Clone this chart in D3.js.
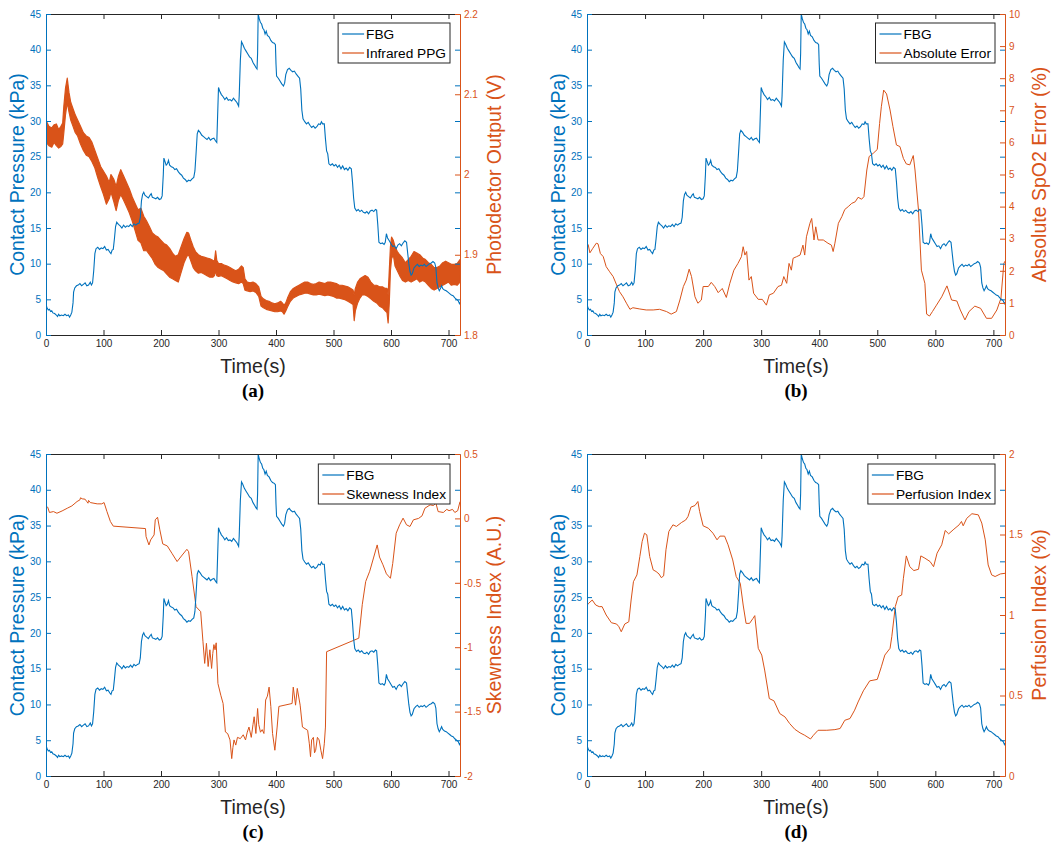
<!DOCTYPE html>
<html>
<head>
<meta charset="utf-8">
<script src="https://cdn.jsdelivr.net/npm/d3@7"></script>
<style>
  body { margin: 0; background: #fff; }
  svg text { font-family: "Liberation Sans", Arial, sans-serif; }
</style>
</head>
<body>
<div id="chart"></div>
<script>
// == data ==
var xTicks = [0, 100, 200, 300, 400, 500, 600, 700];
var kpaTicks = [0, 5, 10, 15, 20, 25, 30, 35, 40, 45];
var ppgTicks = [1.8, 1.9, 2, 2.1, 2.2];
var errTicks = [0, 1, 2, 3, 4, 5, 6, 7, 8, 9, 10];
var skewTicks = [-2, -1.5, -1, -0.5, 0, 0.5];
var perfTicks = [0, 0.5, 1, 1.5, 2];

// FBG contact pressure [time s, kPa]
var fbg = [
  [0,4.2],[2,3.8],[4,3.5],[6,3.6],[8,3.3],[10,3.4],[12,3.1],[15,3.0],[18,2.8],[20,2.6],
  [22,2.9],[24,2.7],[27,2.8],[30,2.7],[33,2.9],[36,2.7],[39,2.8],[41,2.5],[43,2.8],[45,3.2],
  [47,4.5],[48,6.0],[50,6.6],[53,6.9],[56,7.0],[59,7.2],[62,6.9],[65,7.1],[68,7.3],[71,6.9],
  [74,7.0],[77,7.4],[79,7.0],[81,7.3],[83,9.0],[85,11.4],[87,12.1],[90,12.3],[93,12.0],[96,12.2],
  [99,12.1],[102,12.4],[105,11.9],[108,12.0],[111,11.6],[113,11.4],[115,11.9],[117,12.0],[119,13.5],[121,15.2],
  [123,15.8],[126,15.5],[129,15.3],[132,15.0],[135,15.4],[138,15.1],[141,15.3],[144,15.2],[147,15.5],[150,15.2],
  [153,15.6],[156,15.4],[159,15.6],[162,15.7],[164,16.5],[166,18.8],[168,19.7],[170,20.0],[172,19.6],[175,19.4],
  [178,19.2],[181,19.6],[183,19.8],[185,19.3],[188,19.2],[191,19.1],[194,19.3],[197,19.0],[200,19.1],[202,19.5],
  [204,22.5],[205,24.8],[207,24.3],[209,23.8],[211,24.0],[213,24.5],[215,23.8],[218,23.6],[221,23.5],[224,23.2],
  [227,23.3],[230,22.9],[233,22.6],[236,22.4],[239,22.0],[242,21.8],[245,21.5],[248,21.7],[251,21.6],[254,21.9],
  [257,22.1],[259,23.0],[261,25.5],[263,28.2],[265,28.7],[268,28.4],[271,28.0],[274,27.8],[277,27.6],[280,27.4],
  [283,27.7],[286,27.3],[289,27.5],[292,27.6],[295,27.2],[297,27.0],[298,29.5],[300,34.7],[302,34.2],[305,33.7],
  [308,33.4],[311,33.0],[314,33.3],[317,32.9],[320,33.0],[323,32.8],[326,33.2],[329,32.9],[332,32.6],[335,32.1],
  [336,33.5],[338,38.5],[340,41.1],[342,40.8],[345,40.2],[348,39.8],[351,39.4],[354,39.0],[357,38.8],[360,38.2],
  [363,37.8],[365,37.5],[367,37.3],[368,39.5],[369,45.0],[371,44.3],[373,43.8],[375,43.6],[377,43.0],[379,42.8],
  [381,42.2],[383,42.6],[385,42.0],[388,41.8],[391,41.3],[394,41.0],[397,40.9],[399,40.7],[400,38.0],[401,36.3],
  [404,36.0],[407,35.6],[410,35.2],[413,34.9],[415,35.3],[417,36.5],[420,37.2],[423,37.4],[426,37.1],[429,36.9],
  [432,37.0],[435,36.6],[438,36.3],[441,36.0],[443,34.5],[445,31.5],[447,30.3],[450,29.9],[453,29.6],[456,29.8],
  [459,29.4],[462,29.1],[465,29.3],[468,29.0],[471,29.2],[474,29.6],[477,29.5],[479,29.9],[481,29.6],[484,29.6],
  [486,27.5],[488,25.8],[490,25.4],[492,24.0],[495,23.8],[498,24.0],[501,23.7],[504,23.9],[507,23.5],[510,23.8],
  [513,23.3],[516,23.7],[519,23.2],[522,23.4],[525,23.1],[528,23.5],[531,23.3],[533,21.5],[535,19.2],[537,17.8],
  [540,17.4],[543,17.6],[546,17.3],[549,17.5],[552,17.2],[555,17.1],[558,17.3],[561,17.0],[564,17.4],[567,17.5],
  [570,17.3],[573,17.6],[575,17.5],[577,15.5],[579,13.0],[582,12.8],[585,12.9],[588,12.7],[590,13.0],[592,14.2],
  [594,13.6],[597,13.2],[600,12.8],[603,12.4],[606,12.5],[609,12.1],[612,12.6],[615,12.8],[618,12.5],[621,12.9],
  [624,13.2],[627,13.0],[629,11.5],[631,10.0],[633,8.9],[635,8.4],[637,8.6],[640,9.4],[643,9.7],[646,9.9],
  [649,9.6],[652,9.8],[655,9.7],[658,9.9],[661,9.6],[664,9.8],[667,10.0],[670,10.1],[673,10.3],[676,10.1],
  [678,9.5],[680,7.3],[682,6.6],[684,6.2],[686,6.5],[688,6.9],[690,6.5],[693,6.3],[696,6.2],[699,6.0],
  [702,5.8],[705,5.6],[708,5.5],[711,5.2],[714,5.0],[717,4.8],[719,4.4],[720,4.6]
];

// infrared PPG band [time s, lower V, upper V]
var ppg = [
  [0,1.79,2.065],[1,2.040,2.066],[5,2.036,2.060],[10,2.034,2.058],[14,2.040,2.062],[18,2.036,2.063],
  [22,2.033,2.056],[26,2.035,2.060],[29,2.038,2.064],[31,2.052,2.085],[34,2.075,2.108],[37,2.090,2.120],
  [40,2.078,2.102],[43,2.068,2.090],[47,2.060,2.082],[51,2.052,2.074],[55,2.048,2.068],[60,2.038,2.060],
  [65,2.030,2.052],[70,2.024,2.048],[75,2.022,2.046],[80,2.016,2.040],[85,2.008,2.030],[90,1.996,2.020],
  [95,1.985,2.010],[100,1.975,2.004],[105,1.963,1.998],[110,1.970,1.990],[113,1.978,2.000],[118,1.966,1.994],
  [122,1.955,1.985],[126,1.968,1.998],[130,1.975,2.006],[135,1.968,1.998],[140,1.960,1.990],[145,1.952,1.982],
  [150,1.942,1.972],[155,1.930,1.964],[160,1.918,1.956],[165,1.915,1.958],[170,1.905,1.948],[175,1.905,1.942],
  [180,1.900,1.935],[185,1.895,1.927],[190,1.888,1.924],[195,1.884,1.922],[200,1.882,1.918],[205,1.880,1.914],
  [210,1.876,1.912],[215,1.872,1.908],[220,1.870,1.902],[225,1.868,1.898],[230,1.866,1.900],[235,1.878,1.910],
  [240,1.890,1.920],[245,1.898,1.928],[248,1.900,1.927],[252,1.892,1.918],[256,1.884,1.910],[260,1.880,1.904],
  [265,1.877,1.900],[270,1.878,1.898],[275,1.876,1.897],[280,1.874,1.896],[285,1.872,1.895],[290,1.872,1.893],
  [293,1.874,1.892],[295,1.880,1.905],[297,1.874,1.893],[300,1.873,1.889],[305,1.874,1.889],[310,1.872,1.887],
  [315,1.870,1.886],[320,1.868,1.884],[325,1.866,1.882],[330,1.865,1.880],[335,1.864,1.882],[340,1.866,1.886],
  [343,1.864,1.884],[346,1.856,1.870],[350,1.855,1.866],[355,1.854,1.865],[360,1.855,1.866],[365,1.853,1.864],
  [370,1.848,1.860],[374,1.836,1.848],[378,1.834,1.845],[383,1.832,1.843],[388,1.831,1.842],[393,1.830,1.840],
  [398,1.829,1.839],[403,1.829,1.840],[408,1.830,1.842],[411,1.829,1.840],[414,1.826,1.837],[417,1.830,1.840],
  [420,1.835,1.846],[425,1.842,1.854],[430,1.846,1.858],[435,1.848,1.860],[440,1.850,1.862],[445,1.851,1.864],
  [450,1.852,1.866],[455,1.852,1.866],[460,1.851,1.864],[465,1.850,1.863],[470,1.850,1.864],[475,1.851,1.866],
  [480,1.850,1.865],[485,1.849,1.864],[490,1.850,1.866],[495,1.849,1.866],[500,1.848,1.865],[505,1.846,1.864],
  [510,1.846,1.862],[515,1.845,1.862],[520,1.844,1.861],[525,1.842,1.860],[530,1.840,1.858],[534,1.838,1.856],
  [536,1.818,1.850],[538,1.830,1.858],[542,1.840,1.866],[546,1.846,1.870],[550,1.850,1.872],[555,1.850,1.874],
  [560,1.848,1.872],[565,1.845,1.866],[570,1.842,1.862],[575,1.840,1.862],[580,1.836,1.860],[585,1.834,1.860],
  [590,1.830,1.858],[593,1.828,1.858],[595,1.815,1.850],[597,1.840,1.880],[599,1.880,1.910],[601,1.895,1.922],
  [604,1.900,1.918],[607,1.886,1.910],[611,1.880,1.904],[615,1.874,1.900],[620,1.868,1.896],[625,1.866,1.890],
  [630,1.868,1.894],[635,1.866,1.898],[640,1.868,1.904],[645,1.870,1.902],[650,1.866,1.900],[655,1.868,1.896],
  [660,1.866,1.894],[665,1.862,1.890],[670,1.858,1.888],[675,1.856,1.884],[680,1.858,1.884],[685,1.860,1.886],
  [690,1.862,1.890],[695,1.864,1.892],[700,1.866,1.890],[705,1.862,1.888],[710,1.863,1.888],[715,1.862,1.889],
  [720,1.866,1.894]
];

// absolute SpO2 error [time s, %]
var spo2Error = [
  [0,2.85],[2,2.82],[5,2.56],[10,2.70],[16,2.86],[19,2.84],[23,2.54],[28,2.44],[33,2.13],[39,1.97],
  [45,1.82],[51,1.56],[56,1.35],[62,1.19],[68,0.99],[74,0.80],[79,0.85],[91,0.81],[102,0.78],[114,0.78],
  [125,0.80],[137,0.73],[145,0.65],[154,0.73],[160,1.09],[166,1.51],[171,1.71],[176,2.05],[180,1.82],[186,1.19],
  [191,0.99],[197,1.09],[200,1.51],[209,1.51],[214,1.64],[220,1.51],[226,1.32],[233,1.45],[240,1.17],[246,1.61],
  [253,2.02],[260,2.23],[266,2.44],[269,2.75],[272,2.49],[275,2.60],[279,1.71],[283,1.82],[287,1.30],[295,1.11],
  [302,1.11],[309,0.93],[314,1.25],[321,1.30],[329,1.51],[335,1.55],[339,1.82],[344,1.61],[348,2.23],[352,2.02],
  [355,2.39],[361,2.44],[367,2.49],[372,2.80],[375,2.49],[378,3.06],[384,3.48],[387,3.63],[391,2.96],[394,3.37],
  [398,2.96],[407,2.96],[415,2.86],[421,2.80],[424,2.60],[427,2.86],[433,3.48],[439,3.69],[444,3.91],[450,4.00],
  [456,4.10],[462,4.15],[467,4.29],[473,4.23],[477,4.31],[482,5.14],[486,5.56],[493,5.66],[500,5.78],[504,6.59],
  [507,7.11],[511,7.63],[516,7.51],[522,7.01],[527,6.49],[533,5.92],[539,5.87],[545,5.50],[550,5.33],[556,5.30],
  [562,5.59],[565,5.14],[571,3.89],[576,2.02],[582,1.61],[585,0.65],[590,0.59],[595,0.73],[602,0.93],[611,1.19],
  [620,1.53],[628,1.09],[637,1.06],[643,0.78],[651,0.47],[658,0.73],[668,0.90],[678,0.83],[688,0.52],[697,0.52],
  [706,0.78],[713,1.14],[718,2.23],[720,2.30]
];

// skewness index [time s, A.U.]
var skewness = [
  [0,0.09],[3,0.087],[6,0.046],[13,0.053],[19,0.040],[28,0.058],[37,0.079],[45,0.097],[54,0.131],[59,0.144],
  [60,0.16],[63,0.152],[68,0.149],[71,0.13],[73,0.118],[74,0.14],[77,0.123],[89,0.113],[97,0.113],[101,0.123],
  [106,0.053],[112,-0.024],[117,-0.06],[173,-0.079],[174,-0.141],[179,-0.206],[182,-0.167],[188,-0.128],[190,-0.011],[194,0.009],
  [198,-0.089],[203,-0.198],[211,-0.214],[219,-0.271],[228,-0.335],[237,-0.284],[245,-0.240],[248,-0.258],[254,-0.452],[261,-0.686],
  [269,-0.724],[273,-0.958],[276,-1.126],[279,-0.97],[282,-1.15],[285,-1.02],[288,-1.165],[290,-1.05],[292,-0.98],[294,-1.02],
  [296,-0.966],[299,-1.282],[304,-1.373],[308,-1.437],[312,-1.658],[316,-1.671],[320,-1.72],[323,-1.865],[325,-1.78],[327,-1.72],
  [330,-1.76],[333,-1.70],[338,-1.71],[343,-1.68],[347,-1.72],[350,-1.66],[353,-1.62],[357,-1.70],[360,-1.60],[362,-1.54],
  [365,-1.67],[368,-1.476],[370,-1.6],[373,-1.66],[376,-1.64],[379,-1.67],[382,-1.41],[385,-1.38],[388,-1.31],[391,-1.46],
  [394,-1.67],[398,-1.80],[402,-1.62],[405,-1.46],[428,-1.437],[430,-1.31],[434,-1.45],[437,-1.32],[442,-1.45],[446,-1.62],
  [455,-1.645],[458,-1.75],[460,-1.85],[462,-1.72],[465,-1.70],[467,-1.82],[469,-1.80],[472,-1.7],[475,-1.72],[478,-1.8],
  [481,-1.865],[484,-1.75],[486,-1.62],[488,-1.035],[544,-0.93],[550,-0.67],[556,-0.49],[563,-0.41],[570,-0.30],[576,-0.206],
  [580,-0.30],[586,-0.36],[592,-0.43],[599,-0.465],[603,-0.35],[609,-0.115],[615,-0.05],[621,0.002],[627,-0.05],[633,-0.063],
  [639,-0.011],[648,0.0],[654,0.02],[659,0.079],[668,0.105],[674,0.10],[678,0.12],[682,0.053],[691,0.046],[697,0.07],
  [701,0.06],[707,0.07],[711,0.046],[716,0.06],[720,0.13]
];

// perfusion index [time s, %]
var perfusion = [
  [0,1.06],[3,1.073],[9,1.093],[15,1.062],[21,1.052],[26,1.052],[33,1.0],[42,0.952],[51,0.944],[55,0.927],
  [59,0.896],[65,0.944],[72,0.958],[76,1.093],[80,1.207],[86,1.249],[91,1.363],[95,1.456],[99,1.508],[103,1.498],
  [108,1.363],[114,1.28],[119,1.27],[124,1.255],[128,1.232],[132,1.243],[136,1.405],[141,1.519],[148,1.56],[154,1.55],
  [163,1.575],[170,1.59],[174,1.612],[179,1.67],[186,1.68],[191,1.705],[194,1.643],[200,1.554],[209,1.539],[217,1.508],
  [224,1.467],[229,1.49],[237,1.49],[243,1.436],[251,1.342],[257,1.239],[264,1.197],[269,1.062],[274,0.948],[280,0.948],
  [286,0.979],[289,0.996],[295,0.793],[301,0.751],[306,0.658],[314,0.481],[322,0.467],[332,0.388],[341,0.367],[349,0.326],
  [358,0.290],[367,0.268],[375,0.253],[385,0.230],[390,0.253],[398,0.284],[413,0.284],[427,0.288],[436,0.295],[444,0.346],
  [453,0.357],[461,0.409],[467,0.46],[476,0.529],[487,0.591],[500,0.60],[507,0.678],[513,0.751],[522,0.793],[525,0.865],
  [531,1.052],[536,1.114],[542,1.124],[545,1.228],[550,1.367],[556,1.30],[563,1.276],[571,1.284],[575,1.367],[582,1.353],
  [591,1.332],[597,1.30],[603,1.384],[611,1.436],[617,1.525],[623,1.504],[632,1.533],[641,1.56],[645,1.581],[648,1.554],
  [654,1.60],[663,1.629],[674,1.622],[680,1.571],[686,1.467],[691,1.311],[697,1.249],[703,1.239],[712,1.255],[720,1.259]
];

// == layout ==
var BLUE = "#0072BD", ORANGE = "#D95319", DARK = "#262626";

var panels = [
  { left: 46, top: 14, width: 414, height: 321, caption: "(a)",
    domain: [1.8, 2.2], ticks: ppgTicks, ylabel: "Photodector Output (V)", legend: "Infrared PPG",
    band: ppg },
  { left: 587, top: 14, width: 418, height: 321, caption: "(b)",
    domain: [0, 10], ticks: errTicks, ylabel: "Absolute SpO2 Error (%)", legend: "Absolute Error",
    series: spo2Error },
  { left: 46, top: 454, width: 414, height: 322, caption: "(c)",
    domain: [-2, 0.5], ticks: skewTicks, ylabel: "Skewness Index (A.U.)", legend: "Skewness Index",
    series: skewness },
  { left: 587, top: 454, width: 418, height: 322, caption: "(d)",
    domain: [0, 2], ticks: perfTicks, ylabel: "Perfusion Index (%)", legend: "Perfusion Index",
    series: perfusion }
];

// plain number labels, as MATLAB prints them (2.2, 2, -0.5)
var plain = function (d) { return String(+d.toFixed(4)); };

var svg = d3.select("#chart")
  .append("svg")
  .attr("width", 1054)
  .attr("height", 848);

var drawPanel = function (p, idx) {
  var w = p.width, h = p.height;
  var g = svg.append("g").attr("transform", "translate(" + p.left + "," + p.top + ")");

  var x = d3.scaleLinear().domain([0, 720]).range([0, w]);
  var yL = d3.scaleLinear().domain([0, 45]).range([h, 0]);
  var yR = d3.scaleLinear().domain(p.domain).range([h, 0]);

  var clipId = "clip" + idx;
  g.append("clipPath").attr("id", clipId)
    .append("rect").attr("x", 0).attr("y", -1).attr("width", w).attr("height", h + 2);

  var plot = g.append("g").attr("clip-path", "url(#" + clipId + ")");

  // -- orange series --
  if (p.band) {
    var area = d3.area()
      .x(function (d) { return x(d[0]); })
      .y0(function (d) { return yR(d[1]); })
      .y1(function (d) { return yR(d[2]); });
    plot.append("path").datum(p.band)
      .attr("d", area)
      .attr("fill", ORANGE)
      .attr("stroke", ORANGE)
      .attr("stroke-width", 1.2)
      .attr("stroke-linejoin", "round");
  } else {
    var line = d3.line()
      .x(function (d) { return x(d[0]); })
      .y(function (d) { return yR(d[1]); });
    plot.append("path").datum(p.series)
      .attr("d", line)
      .attr("fill", "none")
      .attr("stroke", ORANGE)
      .attr("stroke-width", 1);
  }

  // -- FBG --
  var fbgLine = d3.line()
    .x(function (d) { return x(d[0]); })
    .y(function (d) { return yL(d[1]); });
  plot.append("path").datum(fbg)
    .attr("d", fbgLine)
    .attr("fill", "none")
    .attr("stroke", BLUE)
    .attr("stroke-width", 1.1);

  // == axes ==
  var xAxis = d3.axisBottom(x).tickValues(xTicks).tickSizeInner(-5).tickSizeOuter(0).tickPadding(5);
  var xTop = d3.axisTop(x).tickValues(xTicks).tickSizeInner(-5).tickSizeOuter(0).tickFormat("");
  var leftAxis = d3.axisLeft(yL).tickValues(kpaTicks).tickSizeInner(-5).tickSizeOuter(0).tickPadding(5);
  var leftMirror = d3.axisRight(yL).tickValues(kpaTicks).tickSizeInner(-5).tickSizeOuter(0).tickFormat("");
  var rightAxis = d3.axisRight(yR).tickValues(p.ticks).tickSizeInner(-5).tickSizeOuter(0)
    .tickPadding(4).tickFormat(plain);

  var gx = g.append("g").attr("transform", "translate(0," + h + ")").call(xAxis);
  var gt = g.append("g").call(xTop);
  var gm = g.append("g").attr("transform", "translate(" + w + ",0)").call(leftMirror);
  var gr = g.append("g").attr("transform", "translate(" + w + ",0)").call(rightAxis);
  var gl = g.append("g").call(leftAxis);

  [gx, gt].forEach(function (a) {
    a.select(".domain").attr("stroke", DARK);
    a.selectAll(".tick line").attr("stroke", DARK);
    a.selectAll("text").attr("fill", DARK).style("font-size", "10px");
  });
  gl.select(".domain").attr("stroke", BLUE);
  gl.selectAll(".tick line").attr("stroke", BLUE);
  gl.selectAll("text").attr("fill", BLUE).style("font-size", "10px");
  gm.select(".domain").remove();
  gm.selectAll(".tick line").attr("stroke", BLUE);
  gr.select(".domain").attr("stroke", ORANGE);
  gr.selectAll(".tick line").attr("stroke", ORANGE);
  gr.selectAll("text").attr("fill", ORANGE).style("font-size", "10px");
  svg.selectAll(".tick text").attr("font-family", null);

  // -- axis labels --
  g.append("text")
    .attr("transform", "translate(-29," + (h / 2) + ") rotate(-90)")
    .attr("text-anchor", "middle")
    .attr("dy", "0.35em")
    .attr("fill", BLUE)
    .style("font-size", "19.5px")
    .text("Contact Pressure (kPa)");

  g.append("text")
    .attr("transform", "translate(" + (w + 34) + "," + (h / 2) + ") rotate(-90)")
    .attr("text-anchor", "middle")
    .attr("dy", "0.35em")
    .attr("fill", ORANGE)
    .style("font-size", "19.5px")
    .text(p.ylabel);

  g.append("text")
    .attr("x", w / 2)
    .attr("y", h + 38)
    .attr("text-anchor", "middle")
    .attr("fill", DARK)
    .style("font-size", "19.5px")
    .text("Time(s)");

  g.append("text")
    .attr("x", w / 2)
    .attr("y", h + 62)
    .attr("text-anchor", "middle")
    .attr("fill", "#000")
    .style("font-family", "'Liberation Serif', 'Times New Roman', serif")
    .style("font-weight", "bold")
    .style("font-size", "19px")
    .text(p.caption);

  // == legend ==
  var lg = g.append("g");
  var box = lg.append("rect")
    .attr("fill", "#fff")
    .attr("stroke", DARK)
    .attr("stroke-width", 1);
  var items = [["FBG", BLUE], [p.legend, ORANGE]];
  var maxW = 0;
  items.forEach(function (it, i) {
    var yy = 11 + i * 19;
    lg.append("line")
      .attr("x1", 4).attr("x2", 26).attr("y1", yy).attr("y2", yy)
      .attr("stroke", it[1]).attr("stroke-width", 1.2);
    var t = lg.append("text")
      .attr("x", 28).attr("y", yy).attr("dy", "0.35em")
      .attr("fill", "#000")
      .style("font-size", "13.7px")
      .text(it[0]);
    maxW = Math.max(maxW, t.node().getComputedTextLength());
  });
  var bw = 28 + maxW + 4;
  box.attr("x", 0).attr("y", 0).attr("width", bw).attr("height", 40);
  lg.attr("transform", "translate(" + (w - 10 - bw) + "," + (idx < 2 ? 9 : 10) + ")");
};

panels.forEach(drawPanel);
</script>
</body>
</html>
